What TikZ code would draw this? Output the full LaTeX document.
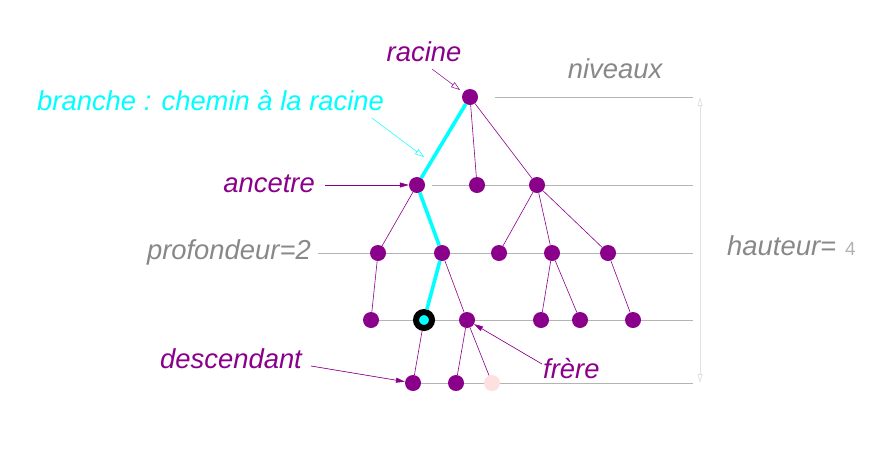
\documentclass[tikz,border=0pt]{standalone}
\usepackage{fontspec}
\setmainfont{Liberation Sans}
\usetikzlibrary{arrows.meta}
\definecolor{pur}{HTML}{8B008B}
\definecolor{cyn}{HTML}{00FFFF}
\definecolor{txtgray}{HTML}{888888}
\definecolor{lvlgray}{HTML}{B4B4B4}
\definecolor{lightpink}{HTML}{FFE0E0}
\begin{document}
\begin{tikzpicture}[x=1pt,y=-1pt,
  nd/.style={circle,fill=pur,inner sep=0pt,minimum size=16pt},
  lvl/.style={draw=lvlgray,line width=0.9pt},
  edge/.style={draw=pur,line width=0.6pt},
  branch/.style={draw=cyn,line width=3.6pt},
  lbl/.style={font=\fontsize{27.4}{31}\selectfont\itshape,inner sep=0pt},
  openarr/.style={-{Triangle[open,length=9pt,width=6pt]},line width=0.5pt},
  fillarr/.style={-{Triangle[length=9pt,width=5pt]},line width=0.6pt,draw=pur,fill=pur}
]
\useasboundingbox (0,0) rectangle (888,451);
% level lines
\coordinate (l0a) at (495,97);  \coordinate (l0b) at (693,97);
\coordinate (l1a) at (432,185); \coordinate (l1b) at (693,185);
\coordinate (l2a) at (318,253); \coordinate (l2b) at (693,253);
\coordinate (l3a) at (371,320); \coordinate (l3b) at (693,320);
\coordinate (l4a) at (413,383); \coordinate (l4b) at (693,383);
\draw[lvl] (l0a) -- (l0b);
\draw[lvl] (l1a) -- (l1b);
\draw[lvl] (l2a) -- (l2b);
\draw[lvl] (l3a) -- (l3b);
\draw[lvl] (l4a) -- (l4b);
% height arrow
\coordinate (h0) at (700,97); \coordinate (h1) at (700,383);
\draw[draw=black!12,line width=0.8pt,{Triangle[open,length=9pt,width=5pt]}-{Triangle[open,length=9pt,width=5pt]}] (h0) -- (h1);
% nodes
\node[nd] (r) at (470,97) {};
\node[nd] (a1) at (417,185) {};
\node[nd] (a2) at (477,185) {};
\node[nd] (a3) at (537,185) {};
\node[nd] (b1) at (378,253) {};
\node[nd] (b2) at (442,253) {};
\node[nd] (b3) at (499,253) {};
\node[nd] (b4) at (552,253) {};
\node[nd] (b5) at (608,253) {};
\node[nd] (c1) at (371,320) {};
\node[circle,fill=cyn,draw=black,line width=6pt,inner sep=0pt,minimum size=16pt] (c2) at (424,320) {};
\node[nd] (c3) at (467,320) {};
\node[nd] (c4) at (541,320) {};
\node[nd] (c5) at (580,320) {};
\node[nd] (c6) at (633,320) {};
\node[nd] (d1) at (413,383) {};
\node[nd] (d2) at (456,383) {};
\node[nd,fill=lightpink] (d3) at (492,383) {};
% edges
\draw[edge] (r) -- (a2);
\draw[edge] (r) -- (a3);
\draw[edge] (a1) -- (b1);
\draw[edge] (a3) -- (b3);
\draw[edge] (a3) -- (b4);
\draw[edge] (a3) -- (b5);
\draw[edge] (b1) -- (c1);
\draw[edge] (b2) -- (c3);
\draw[edge] (b4) -- (c4);
\draw[edge] (b4) -- (c5);
\draw[edge] (b5) -- (c6);
\draw[edge] (c2) -- (d1);
\draw[edge] (c3) -- (d2);
\draw[edge] (c3) -- (d3);
% branch
\draw[branch] (r) -- (a1);
\draw[branch] (a1) -- (b2);
\draw[branch] (b2) -- (c2);
% labels
\node[lbl,text=pur,anchor=base] (tr) at (424,61) {racine};
\node[lbl,text=cyn,anchor=base west] (tb) at (37,110) {branche : chemin à la racine};
\node[lbl,text=txtgray,anchor=base] (tn) at (615,78) {niveaux};
\node[lbl,text=pur,anchor=base east] (ta) at (315,192) {ancetre};
\node[lbl,text=txtgray,anchor=base east] (tp) at (311,259) {profondeur=2};
\node[lbl,text=pur,anchor=base west] (td) at (160,368) {descendant};
\node[lbl,text=pur,anchor=base west] (tf) at (543,378) {frère};
\node[lbl,text=txtgray,anchor=base west] (th) at (727,255) {hauteur=};
\node[font=\fontsize{19}{22}\selectfont,text=black!30,anchor=base west,inner sep=0pt] (t4) at (845,255) {4};
% label arrows
\coordinate (ar0) at (432,69); \coordinate (ar1) at (460,90);
\draw[openarr,draw=pur] (ar0) -- (ar1);
\coordinate (ab0) at (372,118); \coordinate (ab1) at (424,157);
\draw[openarr,draw=cyn] (ab0) -- (ab1);
\coordinate (aa0) at (325,185);
\draw[fillarr] (aa0) -- (a1);
\coordinate (ad0) at (311,366);
\draw[fillarr] (ad0) -- (d1);
\coordinate (af0) at (542,364);
\draw[fillarr] (af0) -- (c3);
\end{tikzpicture}
\end{document}
